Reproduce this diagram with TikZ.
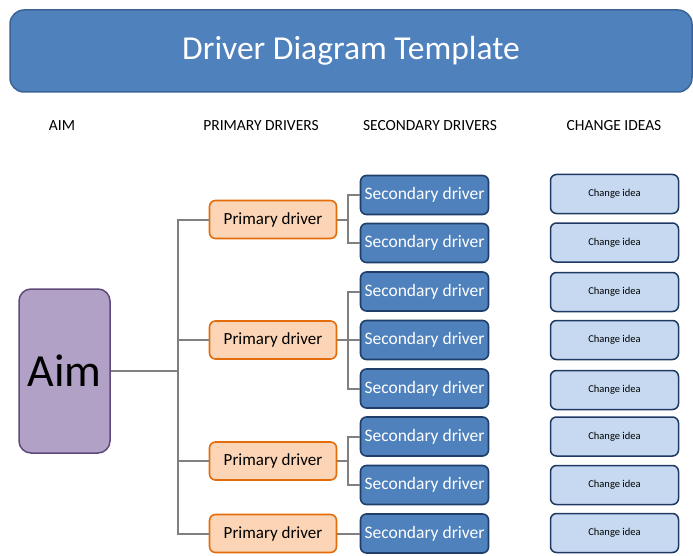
\documentclass[tikz,border=0pt]{standalone}
\usepackage{fontspec}
\setmainfont{Carlito}
\definecolor{titleblue}{HTML}{4F81BD}
\definecolor{titleedge}{HTML}{3A6496}
\definecolor{aimfill}{HTML}{B2A1C7}
\definecolor{aimedge}{HTML}{5F497A}
\definecolor{primfill}{HTML}{FBD5B5}
\definecolor{primedge}{HTML}{E46C0A}
\definecolor{secedge}{HTML}{1F3F6A}
\definecolor{ideafill}{HTML}{C6D9F1}
\definecolor{ideaedge}{HTML}{1F3864}
\definecolor{linkgray}{HTML}{808080}
\tikzset{
  title/.style={draw=titleedge, line width=1.5pt, fill=titleblue, rounded corners=14pt,
    minimum width=682pt, minimum height=82pt, inner sep=0pt, text=white, font=\fontsize{33.5}{33.5}\selectfont},
  header/.style={font=\fontsize{15.5}{15.5}\selectfont},
  aimbox/.style={draw=aimedge, line width=1.5pt, fill=aimfill, rounded corners=12pt,
    minimum width=91pt, minimum height=164pt, inner sep=0pt, font=\fontsize{46}{46}\selectfont},
  primbox/.style={draw=primedge, line width=1.6pt, fill=primfill, rounded corners=6pt,
    minimum width=127pt, minimum height=38pt, inner sep=0pt, font=\fontsize{17}{17}\selectfont},
  secbox/.style={draw=secedge, line width=1.6pt, fill=titleblue, rounded corners=6pt,
    minimum width=128pt, minimum height=39pt, inner sep=0pt, text=white, font=\fontsize{17.5}{17.5}\selectfont},
  ideabox/.style={draw=ideaedge, line width=1.5pt, fill=ideafill, rounded corners=6pt,
    minimum width=128pt, minimum height=39pt, inner sep=0pt, font=\fontsize{10.5}{10.5}\selectfont},
  link/.style={draw=linkgray, line width=2pt}
}
\begin{document}
\begin{tikzpicture}[x=1pt, y=-1pt]
  \useasboundingbox (0,0) rectangle (693,556);
  \node[title] (title) at (351,51) {Driver Diagram Template};

  \node[header] (haim) at (62,126) {AIM};
  \node[header] (hprim) at (261,126) {PRIMARY DRIVERS};
  \node[header] (hsec) at (430,126) {SECONDARY DRIVERS};
  \node[header] (hidea) at (614,126) {CHANGE IDEAS};

  \node[aimbox] (aim) at (64.5,371) {Aim};

  \node[primbox] (p1) at (273,219.5) {Primary driver};
  \node[primbox] (p2) at (273,340) {Primary driver};
  \node[primbox] (p3) at (273,461) {Primary driver};
  \node[primbox] (p4) at (273,533.5) {Primary driver};

  \node[secbox] (s1) at (424.5,195) {Secondary driver};
  \node[secbox] (s2) at (424.5,243) {Secondary driver};
  \node[secbox] (s3) at (424.5,291.5) {Secondary driver};
  \node[secbox] (s4) at (424.5,340) {Secondary driver};
  \node[secbox] (s5) at (424.5,388.5) {Secondary driver};
  \node[secbox] (s6) at (424.5,436.5) {Secondary driver};
  \node[secbox] (s7) at (424.5,485) {Secondary driver};
  \node[secbox] (s8) at (424.5,533.5) {Secondary driver};

  \node[ideabox] (c1) at (614.5,194) {Change idea};
  \node[ideabox] (c2) at (614.5,242.5) {Change idea};
  \node[ideabox] (c3) at (614.5,292) {Change idea};
  \node[ideabox] (c4) at (614.5,340) {Change idea};
  \node[ideabox] (c5) at (614.5,390) {Change idea};
  \node[ideabox] (c6) at (614.5,436.5) {Change idea};
  \node[ideabox] (c7) at (614.5,485) {Change idea};
  \node[ideabox] (c8) at (614.5,533) {Change idea};

  \coordinate (trunk) at (178,0);
  \coordinate (fork) at (348,0);
  \begin{scope}[link]
    \draw (aim.east) -- (aim.east -| trunk);
    \draw (p1.west) -- (p1.west -| trunk) -- (p4.west -| trunk) -- (p4.west);
    \draw (p2.west) -- (p2.west -| trunk);
    \draw (p3.west) -- (p3.west -| trunk);
    \draw (p1.east) -- (p1.east -| fork);
    \draw (s1.west) -- (s1.west -| fork) -- (s2.west -| fork) -- (s2.west);
    \draw (p2.east) -- (p2.east -| fork);
    \draw (s3.west) -- (s3.west -| fork) -- (s5.west -| fork) -- (s5.west);
    \draw (s4.west) -- (s4.west -| fork);
    \draw (p3.east) -- (p3.east -| fork);
    \draw (s6.west) -- (s6.west -| fork) -- (s7.west -| fork) -- (s7.west);
    \draw (p4.east) -- (s8.west);
  \end{scope}
\end{tikzpicture}
\end{document}
